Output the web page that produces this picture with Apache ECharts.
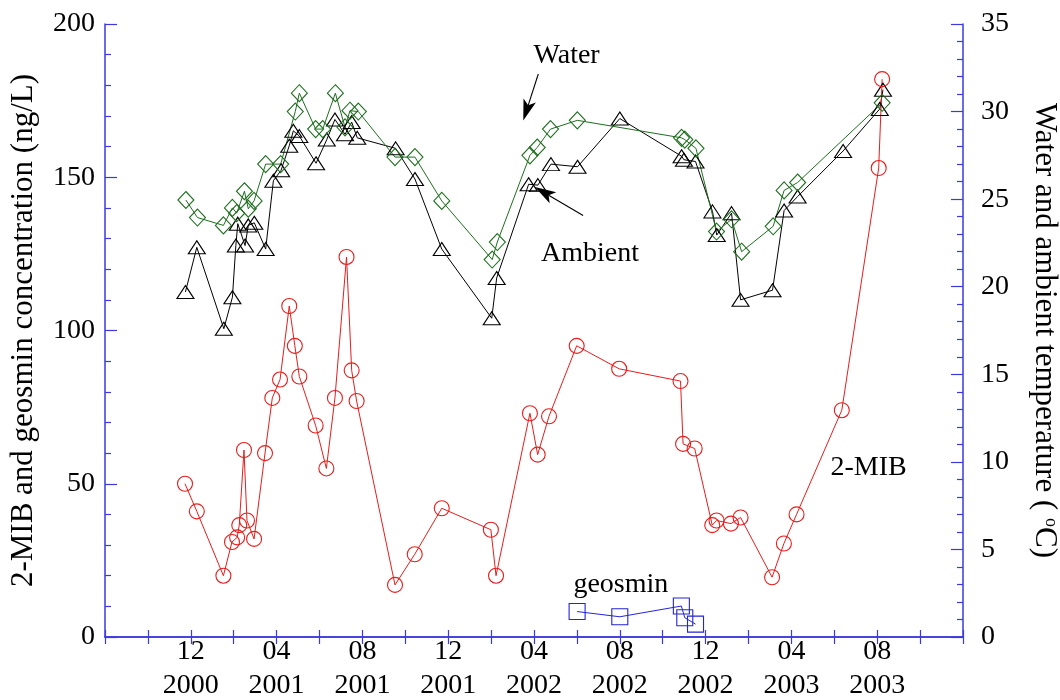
<!DOCTYPE html>
<html>
<head>
<meta charset="utf-8">
<title>2-MIB, geosmin and temperature</title>
<script src="https://cdn.jsdelivr.net/npm/echarts@6/dist/echarts.min.js"></script>
<style>
  html, body { margin: 0; padding: 0; background: #fff; }
  #main { width: 1060px; height: 700px; }
</style>
</head>
<body>
<div id="main"></div>
<script>
// Sampling times are given in months counted from January 2000 (Jan 2000 = 1, Dec 2000 = 12, ...).

// 2-MIB concentration (ng/L), left axis
const mibMonths = [11.73, 12.28, 13.52, 13.92, 14.16, 14.26, 14.48, 14.62, 14.95, 15.46, 15.80, 16.16, 16.59, 16.85, 17.06,
  17.82, 18.32, 18.72, 19.26, 19.50, 19.73, 21.52, 22.44, 23.70, 25.99, 26.23, 27.81, 28.17, 28.70, 29.99, 31.97,
  34.83, 34.95, 35.49, 36.31, 36.51, 37.18, 37.63, 39.10, 39.65, 40.24, 42.35, 44.07, 44.23];
const mibValues = [50, 41, 20, 31, 32.5, 36.5, 61, 38, 32, 60, 78, 84, 108, 95, 85,
  69, 55, 78, 124, 87, 77, 17, 27, 42, 35, 20, 73, 59.5, 72, 95, 87.5,
  83.5, 63, 61.5, 36.5, 38, 37, 39, 19.5, 30.5, 40, 74, 153, 182];

// Geosmin concentration (ng/L), left axis
const geosminMonths = [30.01, 32.00, 34.87, 35.03, 35.53];
const geosminValues = [8.3, 6.6, 10.1, 6.3, 4.2];

// Ambient air temperature (degC), right axis
const ambientMonths = [11.75, 12.28, 13.54, 13.94, 14.10, 14.19, 14.53, 14.68, 14.96, 15.49, 15.85, 16.21, 16.59, 16.78, 17.06,
  17.84, 18.34, 18.72, 19.19, 19.50, 19.76, 21.55, 22.45, 23.70, 26.03, 26.26, 27.75, 28.18, 28.79, 30.03, 32.00,
  34.88, 34.99, 35.53, 36.32, 36.52, 37.21, 37.63, 39.12, 39.66, 40.29, 42.41, 44.12, 44.27];
const ambientTemps = [19.7, 22.25, 17.6, 19.4, 22.35, 23.6, 22.35, 23.5, 23.65, 22.15, 26.05, 26.65, 28.05, 28.9, 28.6,
  27.05, 28.4, 29.55, 28.7, 29.4, 28.5, 27.9, 26.15, 22.15, 18.2, 20.5, 25.85, 25.8, 27.0, 26.85, 29.6,
  27.45, 27.25, 27.15, 24.3, 22.95, 24.2, 19.25, 19.8, 24.35, 25.15, 27.75, 30.15, 31.25];

// Water temperature (degC), right axis
const waterMonths = [11.77, 12.31, 13.52, 13.94, 14.14, 14.50, 14.68, 14.95, 15.49, 16.19, 16.87, 17.06, 17.82, 18.15, 18.74,
  19.19, 19.42, 19.81, 21.52, 22.45, 23.70, 26.05, 26.29, 27.81, 28.15, 28.77, 30.02, 34.88, 35.03, 35.55,
  36.51, 37.21, 37.68, 39.15, 39.66, 40.29, 44.23];
const waterTemps = [24.95, 23.95, 23.5, 24.5, 24.2, 25.45, 24.45, 24.9, 27.0, 27.0, 30.0, 31.05, 29.0, 29.0, 31.05,
  29.1, 30.05, 30.0, 27.4, 27.4, 24.9, 21.55, 22.55, 27.5, 27.95, 29.0, 29.5, 28.5, 28.4, 27.9,
  23.15, 23.85, 22.0, 23.45, 25.5, 25.95, 30.5];

// Time axis range and labelled months
const monthMin = 8, monthMax = 48, monthStep = 2, labelStep = 4;

const FONT = "'Liberation Serif', 'Times New Roman', serif";
const AXIS_BLUE = '#3a3ae0';

function zip(xs, ys) { return xs.map((x, i) => [x, ys[i]]); }

function monthLabel(v) {
  if (v <= monthMin || v >= monthMax || v % labelStep !== 0) return '';
  const mo = ((v - 1) % 12) + 1;
  const yr = 2000 + Math.floor((v - 1) / 12);
  return (mo < 10 ? '0' + mo : '' + mo) + '\n' + yr;
}

const hollow = (c) => ({ color: 'rgba(0,0,0,0)', borderColor: c, borderWidth: 1.1 });

const chart = echarts.init(document.getElementById('main'), null, { renderer: 'canvas' });

const xCommon = {
  type: 'value', min: monthMin, max: monthMax, interval: monthStep,
  axisLine: { show: true, lineStyle: { color: AXIS_BLUE, width: 1.5 } },
  axisTick: { show: true, inside: true, length: 7, lineStyle: { color: AXIS_BLUE, width: 1.2 } },
  splitLine: { show: false }
};

chart.setOption({
  animation: false,
  backgroundColor: '#fff',
  grid: { left: 105, right: 97, top: 24, bottom: 63, containLabel: false, outerBoundsMode: 'none' },
  xAxis: [
    Object.assign({}, xCommon, {
      position: 'bottom',
      axisLabel: { show: true, formatter: monthLabel, color: '#000', fontFamily: FONT, fontSize: 28, lineHeight: 34, margin: -2 }
    }),
    Object.assign({}, xCommon, { position: 'top', axisLabel: { show: false } })
  ],
  yAxis: [
    {
      type: 'value', min: 0, max: 200, interval: 50, position: 'left',
      name: '2-MIB and geosmin concentration (ng/L)', nameLocation: 'middle', nameGap: 66,
      nameTextStyle: { color: '#000', fontFamily: FONT, fontSize: 31 },
      axisLine: { show: true, lineStyle: { color: AXIS_BLUE, width: 1.5 } },
      axisTick: { show: true, inside: true, length: 12, lineStyle: { color: AXIS_BLUE, width: 1.2 } },
      minorTick: { show: true, splitNumber: 5, length: 6, lineStyle: { color: AXIS_BLUE, width: 1.2 } },
      axisLabel: { color: '#000', fontFamily: FONT, fontSize: 28, margin: 10 },
      splitLine: { show: false }
    },
    {
      type: 'value', min: 0, max: 35, interval: 5, position: 'right',
      name: 'Water and ambient temperature ( {sup|o}C)', nameLocation: 'middle', nameGap: 66, nameRotate: -90,
      nameTextStyle: {
        color: '#000', fontFamily: FONT, fontSize: 31,
        rich: { sup: { fontFamily: FONT, fontSize: 18, color: '#000', verticalAlign: 'top' } }
      },
      axisLine: { show: true, lineStyle: { color: AXIS_BLUE, width: 1.5 } },
      axisTick: { show: true, inside: true, length: 12, lineStyle: { color: AXIS_BLUE, width: 1.2 } },
      minorTick: { show: true, splitNumber: 5, length: 6, lineStyle: { color: AXIS_BLUE, width: 1.2 } },
      axisLabel: { color: '#000', fontFamily: FONT, fontSize: 28, margin: 18 },
      splitLine: { show: false }
    }
  ],
  series: [
    {
      name: 'Ambient', type: 'line', xAxisIndex: 0, yAxisIndex: 1,
      data: zip(ambientMonths, ambientTemps),
      symbol: 'triangle', symbolSize: [17, 13], showAllSymbol: true,
      lineStyle: { color: '#000', width: 1 }, itemStyle: hollow('#000')
    },
    {
      name: 'Water', type: 'line', xAxisIndex: 0, yAxisIndex: 1,
      data: zip(waterMonths, waterTemps),
      symbol: 'diamond', symbolSize: [16, 17], showAllSymbol: true,
      lineStyle: { color: '#1e6e1e', width: 1 }, itemStyle: hollow('#1e6e1e')
    },
    {
      name: '2-MIB', type: 'line', xAxisIndex: 0, yAxisIndex: 0,
      data: zip(mibMonths, mibValues),
      symbol: 'circle', symbolSize: 15, showAllSymbol: true,
      lineStyle: { color: '#e81c1c', width: 1 }, itemStyle: hollow('#e81c1c')
    },
    {
      name: 'geosmin', type: 'line', xAxisIndex: 0, yAxisIndex: 0,
      data: zip(geosminMonths, geosminValues),
      symbol: 'rect', symbolSize: 16, showAllSymbol: true,
      lineStyle: { color: '#2424d8', width: 1 }, itemStyle: hollow('#2424d8')
    }
  ]
});

// Annotation anchors in data coordinates of the left axis: [month, ng/L]
const textNotes = [
  { text: 'Water', at: [29.52, 189.7] },
  { text: 'Ambient', at: [30.61, 125.2] },
  { text: '2-MIB', at: [43.60, 55.4] },
  { text: 'geosmin', at: [32.05, 17.0] }
];
const arrowNotes = [
  { from: [28.20, 183.7], to: [27.50, 168.5] },
  { from: [30.29, 137.5], to: [28.04, 146.8] }
];

function px(p) { return chart.convertToPixel({ xAxisIndex: 0, yAxisIndex: 0 }, p); }

const graphics = [];
textNotes.forEach((n) => {
  const p = px(n.at);
  graphics.push({
    type: 'text', x: p[0], y: p[1], z: 10,
    style: { text: n.text, fill: '#000', font: '28px ' + FONT, textAlign: 'center', textVerticalAlign: 'middle' }
  });
});
arrowNotes.forEach((a) => {
  const s = px(a.from), t = px(a.to);
  const dx = t[0] - s[0], dy = t[1] - s[1];
  const len = Math.hypot(dx, dy);
  const ux = dx / len, uy = dy / len, nx = -uy, ny = ux;
  const headLen = 21, halfW = 6.5, notch = 5;
  const bx = t[0] - ux * headLen, by = t[1] - uy * headLen;
  graphics.push({
    type: 'line', z: 10,
    shape: { x1: s[0], y1: s[1], x2: t[0] - ux * (headLen - notch), y2: t[1] - uy * (headLen - notch) },
    style: { stroke: '#000', lineWidth: 1.1 }
  });
  graphics.push({
    type: 'polygon', z: 10,
    shape: { points: [
      [t[0], t[1]],
      [bx + nx * halfW, by + ny * halfW],
      [t[0] - ux * (headLen - notch), t[1] - uy * (headLen - notch)],
      [bx - nx * halfW, by - ny * halfW]
    ] },
    style: { fill: '#000' }
  });
});
chart.setOption({ graphic: graphics });
</script>
</body>
</html>
